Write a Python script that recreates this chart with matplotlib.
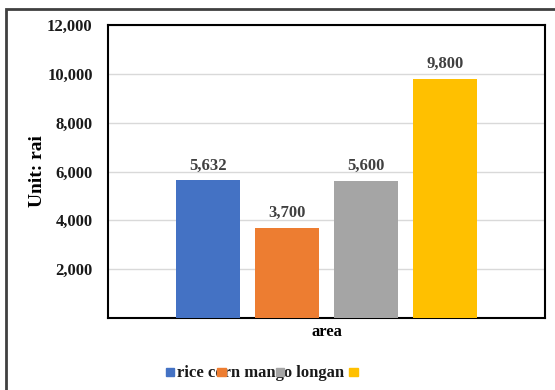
import matplotlib
matplotlib.use('Agg')
import matplotlib.pyplot as plt
from matplotlib.patches import Rectangle
from matplotlib.ticker import FuncFormatter

crops = ['rice', 'corn', 'mango', 'longan']
area = [5632, 3700, 5600, 9800]
colors = ['#4472C4', '#ED7D31', '#A5A5A5', '#FFC000']
yticks = [0, 2000, 4000, 6000, 8000, 10000, 12000]

plt.rcParams['font.family'] = ['Liberation Serif', 'DejaVu Serif']
plt.rcParams['font.weight'] = 'bold'

W, H = 555, 390
fig = plt.figure(figsize=(W / 100, H / 100), dpi=100)
ax = fig.add_axes([108 / W, 1 - 318 / H, (545 - 108) / W, (318 - 25) / H])

x = range(len(crops))
bars = ax.bar(x, area, width=0.8, color=colors, zorder=3)
for b, v in zip(bars, area):
    ax.annotate('{:,}'.format(v), (b.get_x() + b.get_width() / 2, v),
                xytext=(0, 5), textcoords='offset points', ha='center', va='bottom',
                fontsize=12, fontweight='bold', color='#404040')

ax.set_xlim(-1.266, 4.266)
ax.set_ylim(0, 12000)
ax.set_yticks(yticks)
ax.yaxis.set_major_formatter(FuncFormatter(lambda v, p: '' if v == 0 else '{:,.0f}'.format(v)))
ax.set_xticks([])
ax.tick_params(axis='y', length=0, pad=11, labelsize=12, labelcolor='#1a1a1a')
ax.grid(axis='y', color='#D9D9D9', linewidth=1, zorder=0)
for s in ax.spines.values():
    s.set_color('black')
    s.set_linewidth(1.5)

ax.set_ylabel('Unit: rai', fontsize=14, fontweight='bold', labelpad=1)
ax.set_xlabel('area', fontsize=12, fontweight='bold', labelpad=4)

# legend as drawn in the source: one text run with the keys laid over it
fig.text(177 / W, 1 - 377 / H, ' '.join(crops), fontsize=12, fontweight='bold',
         color='#1a1a1a', va='baseline', ha='left')
key_x = [165.5, 217, 275.5, 349]
for kx, c in zip(key_x, colors):
    fig.add_artist(Rectangle((kx / W, 1 - 376 / H), 8.5 / W, 8.5 / H,
                             transform=fig.transFigure, color=c, zorder=5))

# outer chart border, cut off at right and bottom
fig.add_artist(Rectangle((5.5 / W, -0.05), 1.1, 1 - 9 / H + 0.05, transform=fig.transFigure,
                         fill=False, edgecolor='#404040', linewidth=2))

fig.savefig('out.png', dpi=100)
